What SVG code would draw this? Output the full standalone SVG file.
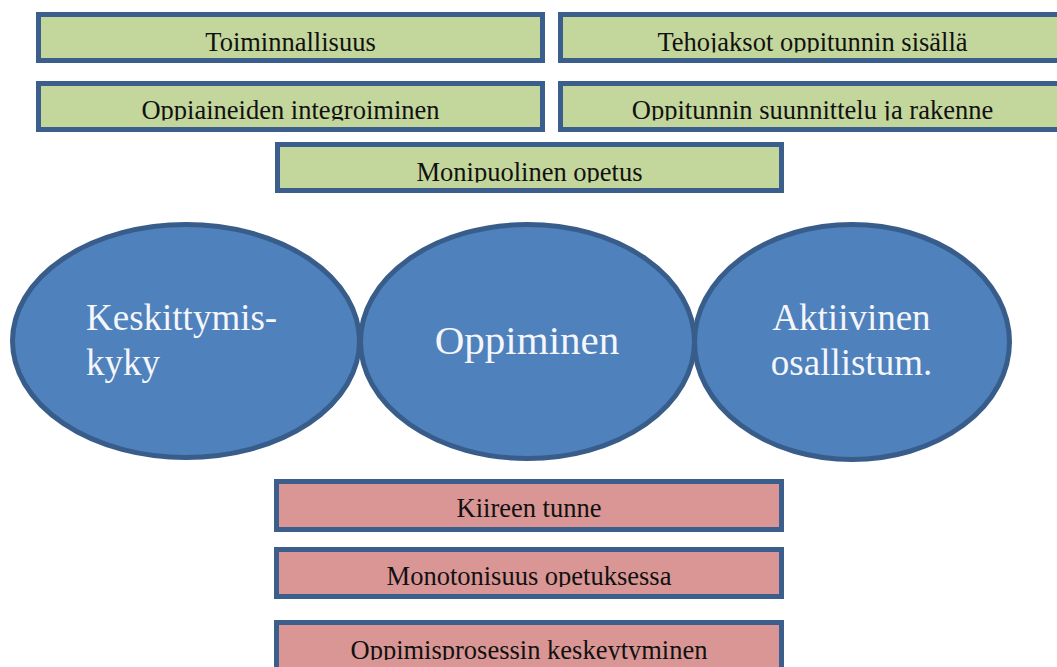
<svg xmlns="http://www.w3.org/2000/svg" width="1057" height="667" viewBox="0 0 1057 667">
<style>
.box rect.b{stroke:#3B5E8C;stroke-width:5}
.g{fill:#C3D69B}
.p{fill:#D99694}
.bt{font-family:"Liberation Serif","Times New Roman",serif;font-size:26.5px;fill:#111;text-anchor:middle}
.ell ellipse{fill:#4F81BD;stroke:#385D8A;stroke-width:5}
.et{font-family:"Liberation Serif","Times New Roman",serif;font-size:37px;fill:#F4F6FA}
</style>
<defs>
<clipPath id="c1"><rect x="36" y="12" width="1021" height="40.5"/></clipPath>
<clipPath id="c3"><rect x="36" y="81" width="1021" height="39.5"/></clipPath>
<clipPath id="c5"><rect x="275" y="142" width="510" height="40.5"/></clipPath>
<clipPath id="c6"><rect x="274" y="479" width="510" height="39.5"/></clipPath>
<clipPath id="c7"><rect x="274" y="547" width="510" height="40"/></clipPath>
<clipPath id="c8"><rect x="274" y="620" width="510" height="40"/></clipPath>
</defs>
<rect width="1057" height="667" fill="#fff"/>
<g id="connectors"/>
<g id="n-toiminnallisuus" class="box">
<rect class="b g" x="38.5" y="14.5" width="504" height="46"/>
<text class="bt" x="290.5" y="50.5" clip-path="url(#c1)">Toiminnallisuus</text>
</g>
<g id="n-tehojaksot" class="box">
<rect class="b g" x="560.5" y="14.5" width="504" height="46"/>
<text class="bt" x="812.5" y="50.5" clip-path="url(#c1)">Tehojaksot oppitunnin sisällä</text>
</g>
<g id="n-oppiaineiden" class="box">
<rect class="b g" x="38.5" y="83.5" width="504" height="46"/>
<text class="bt" x="290.5" y="118.5" clip-path="url(#c3)">Oppiaineiden integroiminen</text>
</g>
<g id="n-suunnittelu" class="box">
<rect class="b g" x="560.5" y="83.5" width="504" height="46"/>
<text class="bt" x="812.5" y="118.5" clip-path="url(#c3)">Oppitunnin suunnittelu ja rakenne</text>
</g>
<g id="n-monipuolinen" class="box">
<rect class="b g" x="277.5" y="144.5" width="504" height="46"/>
<text class="bt" x="529.5" y="180.5" clip-path="url(#c5)">Monipuolinen opetus</text>
</g>
<g id="n-keskittymiskyky" class="ell">
<ellipse cx="186" cy="341" rx="173.5" ry="116.5"/>
<text class="et" x="86" y="330">Keskittymis-</text>
<text class="et" x="86" y="375">kyky</text>
</g>
<g id="n-oppiminen" class="ell">
<ellipse cx="527.5" cy="341.5" rx="167" ry="117"/>
<text class="et" x="527" y="354" text-anchor="middle" style="font-size:41px">Oppiminen</text>
</g>
<g id="n-aktiivinen" class="ell">
<ellipse cx="852" cy="342" rx="157.5" ry="117.5"/>
<text class="et" x="851.5" y="330" text-anchor="middle">Aktiivinen</text>
<text class="et" x="851.5" y="375" text-anchor="middle">osallistum.</text>
</g>
<g id="n-kiireen" class="box">
<rect class="b p" x="276.5" y="481.5" width="505" height="48"/>
<text class="bt" x="529" y="516.5" clip-path="url(#c6)">Kiireen tunne</text>
</g>
<g id="n-monotonisuus" class="box">
<rect class="b p" x="276.5" y="549.5" width="505" height="47"/>
<text class="bt" x="529" y="585" clip-path="url(#c7)">Monotonisuus opetuksessa</text>
</g>
<g id="n-keskeytyminen" class="box">
<rect class="b p" x="276.5" y="622.5" width="505" height="60"/>
<text class="bt" x="529" y="658.5" clip-path="url(#c8)">Oppimisprosessin keskeytyminen</text>
</g>
</svg>
